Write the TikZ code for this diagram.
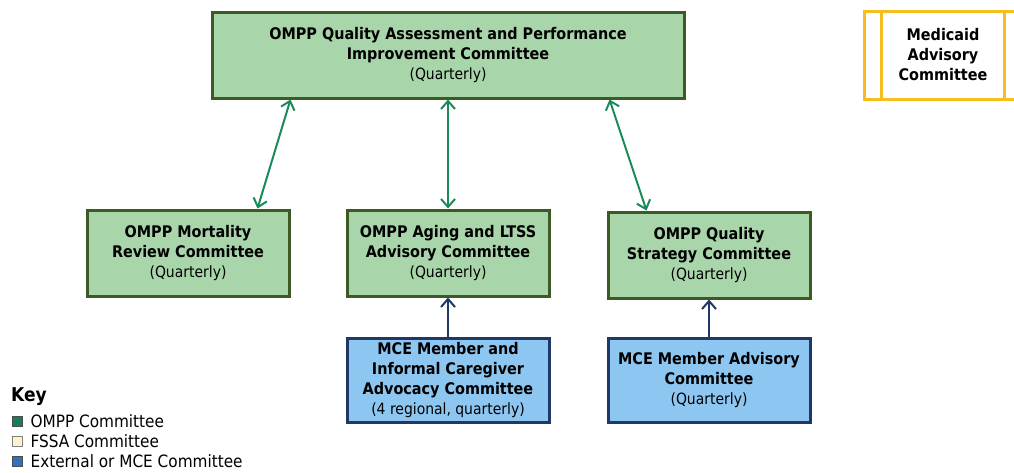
\documentclass[tikz,border=0pt]{standalone}
\usepackage{fontspec}
\setmainfont{DejaVu Sans Condensed}
\usepackage{xcolor}
\usepackage{tikz}
\usetikzlibrary{positioning,arrows.meta}

\definecolor{boxgreen}{HTML}{A9D5AB}
\definecolor{edgegreen}{HTML}{3B5A26}
\definecolor{arrowgreen}{HTML}{1B8A5A}
\definecolor{boxblue}{HTML}{8EC6F2}
\definecolor{edgeblue}{HTML}{1F3866}
\definecolor{edgeyellow}{HTML}{F5BE1E}
\definecolor{keygreen}{HTML}{13805A}
\definecolor{keyyellow}{HTML}{FFF2C8}
\definecolor{keyblue}{HTML}{2F74B8}

\newcommand{\howoften}{\fontsize{15.5}{19}\selectfont\mdseries}

\begin{document}
\begin{tikzpicture}[
  x=1pt, y=-1pt,
  box/.style={rectangle, minimum height=86pt, draw=edgegreen, fill=boxgreen, line width=3pt,
              font=\fontsize{16}{20}\selectfont\bfseries, align=center, inner sep=0pt},
  mcebox/.style={box, draw=edgeblue, fill=boxblue, minimum height=84pt},
  twoway/.style={{Straight Barb[length=8pt,width=14pt]}-{Straight Barb[length=8pt,width=14pt]},
                 line width=2pt, draw=arrowgreen},
  upward/.style={-{Straight Barb[length=8pt,width=14pt]}, line width=2pt, draw=edgeblue},
  keysq/.style={rectangle, minimum size=10pt, inner sep=0pt, line width=0.8pt},
  keytext/.style={font=\fontsize{17}{20}\selectfont, inner sep=0pt, anchor=west}
]
\clip (0,0) rectangle (1014,472);

% Boxes
\node[box, minimum width=472pt] (qapi) at (448,55)
  {OMPP Quality Assessment and Performance\\Improvement Committee\\{\howoften (Quarterly)}};
\node[box, minimum width=202pt] (mort) at (188,253)
  {OMPP Mortality\\Review Committee\\{\howoften (Quarterly)}};
\node[box, minimum width=202pt] (aging) at (448,253)
  {OMPP Aging and LTSS\\Advisory Committee\\{\howoften (Quarterly)}};
\node[box, minimum width=202pt] (qstrat) at (709,255)
  {OMPP Quality\\Strategy Committee\\{\howoften (Quarterly)}};
\node[mcebox, minimum width=202pt] (mcaa) at (448,380)
  {MCE Member and\\Informal Caregiver\\Advocacy Committee\\{\howoften (4 regional, quarterly)}};
\node[mcebox, minimum width=202pt] (mcma) at (709,380)
  {MCE Member Advisory\\Committee\\{\howoften (Quarterly)}};

% FSSA box, cut off at the right edge
\node[box, draw=edgeyellow, fill=white, minimum width=158pt, minimum height=88pt] (mac) at (943,55)
  {Medicaid\\Advisory\\Committee};
\draw[edgeyellow, line width=3pt] ([xshift=19]mac.north west) -- ([xshift=19]mac.south west);
\draw[edgeyellow, line width=3pt] ([xshift=-19]mac.north east) -- ([xshift=-19]mac.south east);

% Arrows
\draw[twoway] ([xshift=80]qapi.south west) -- ([xshift=-33]mort.north east);
\draw[twoway] (qapi.south) -- (aging.north);
\draw[twoway] ([xshift=-76]qapi.south east) -- ([xshift=40]qstrat.north west);
\draw[upward] (mcaa.north) -- (aging.south);
\draw[upward] (mcma.north) -- (qstrat.south);

% Key
\node[font=\fontsize{19}{22}\selectfont\bfseries, anchor=west, inner sep=0pt] (key) at (11,397) {Key};
\node[keysq, draw=black!70, fill=keygreen] (k1) at (17,421) {};
\node[keysq, draw=black!50, fill=keyyellow] (k2) at (17,441) {};
\node[keysq, draw=black!70, fill=keyblue] (k3) at (17,461) {};
\node[keytext, right=8pt of k1] {OMPP Committee};
\node[keytext, right=8pt of k2] {FSSA Committee};
\node[keytext, right=8pt of k3] {External or MCE Committee};
\end{tikzpicture}
\end{document}
